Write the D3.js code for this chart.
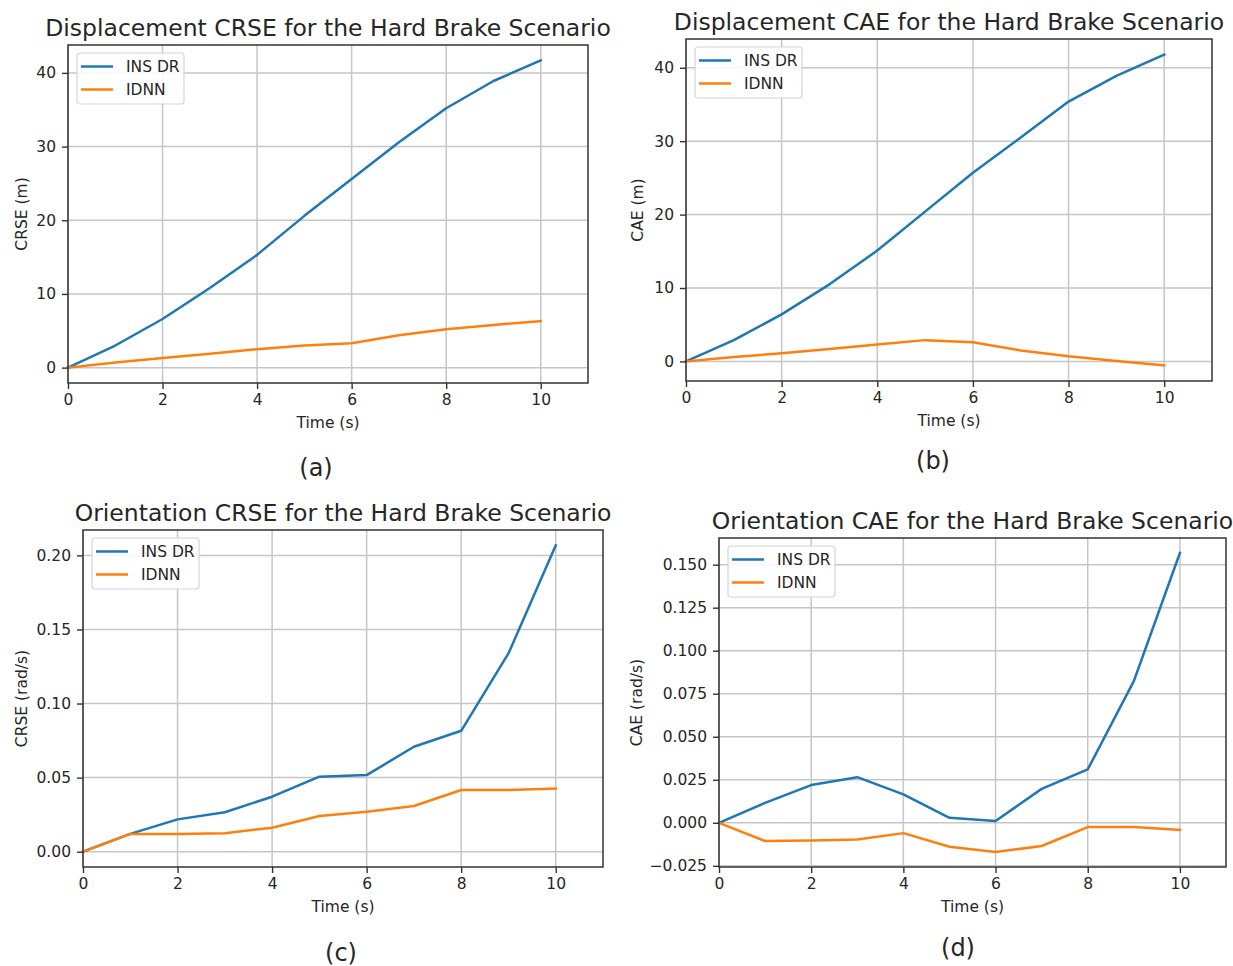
<!DOCTYPE html>
<html>
<head>
<meta charset="utf-8">
<script src="https://cdn.jsdelivr.net/npm/d3@7"></script>
<style>
  html, body { margin: 0; padding: 0; background: #ffffff; }
  svg { display: block; }
  text { font-family: "DejaVu Sans", sans-serif; fill: #262626; }
</style>
</head>
<body>
<svg id="chart" width="1233" height="966"></svg>
<script>
// Time axis shared by all four panels (seconds)
const timeSteps = [0, 1, 2, 3, 4, 5, 6, 7, 8, 9, 10];
const seriesNames = ["INS DR", "IDNN"];
const xTickValues = [0, 2, 4, 6, 8, 10];

// (a) Displacement CRSE (m)
const dispCrseInsDr = [0, 3.0, 6.6, 10.8, 15.3, 20.6, 25.6, 30.6, 35.2, 38.9, 41.7];
const dispCrseIdnn  = [0, 0.7, 1.3, 1.9, 2.5, 3.0, 3.3, 4.4, 5.2, 5.8, 6.3];
const dispCrseTicks = [0, 10, 20, 30, 40];

// (b) Displacement CAE (m)
const dispCaeInsDr = [0, 2.9, 6.4, 10.5, 15.1, 20.4, 25.7, 30.5, 35.4, 38.9, 41.8];
const dispCaeIdnn  = [0, 0.6, 1.1, 1.7, 2.3, 2.9, 2.6, 1.5, 0.7, 0.05, -0.55];
const dispCaeTicks = [0, 10, 20, 30, 40];

// (c) Orientation CRSE (rad/s)
const oriCrseInsDr = [0, 0.012, 0.0218, 0.0266, 0.0371, 0.0506, 0.0517, 0.0708, 0.0816, 0.1338, 0.2068];
const oriCrseIdnn  = [0, 0.012, 0.012, 0.0124, 0.0162, 0.0241, 0.027, 0.0308, 0.0416, 0.0416, 0.0427];
const oriCrseTicks = [0, 0.05, 0.10, 0.15, 0.20];

// (d) Orientation CAE (rad/s)
const oriCaeInsDr = [0, 0.0116, 0.0219, 0.0265, 0.0165, 0.0029, 0.001, 0.0197, 0.031, 0.0823, 0.1568];
const oriCaeIdnn  = [0, -0.0106, -0.0103, -0.0097, -0.006, -0.0139, -0.017, -0.0135, -0.0025, -0.0025, -0.0042];
const oriCaeTicks = [-0.025, 0, 0.025, 0.05, 0.075, 0.10, 0.125, 0.15];

const seriesColors = ["#1f77b4", "#ff7f0e"];

const panels = [
  { title: "Displacement CRSE for the Hard Brake Scenario", yLabel: "CRSE (m)",
    series: [dispCrseInsDr, dispCrseIdnn], yTicks: dispCrseTicks, fmt: d3.format("d"),
    box: { left: 68, right: 588, top: 45, bottom: 383 }, yLabelX: 22,
    tag: "(a)", tagX: 316, tagY: 468 },
  { title: "Displacement CAE for the Hard Brake Scenario", yLabel: "CAE (m)",
    series: [dispCaeInsDr, dispCaeIdnn], yTicks: dispCaeTicks, fmt: d3.format("d"),
    box: { left: 686, right: 1212, top: 39, bottom: 381 }, yLabelX: 638,
    tag: "(b)", tagX: 933, tagY: 461 },
  { title: "Orientation CRSE for the Hard Brake Scenario", yLabel: "CRSE (rad/s)",
    series: [oriCrseInsDr, oriCrseIdnn], yTicks: oriCrseTicks, fmt: d3.format(".2f"),
    box: { left: 83, right: 603, top: 530, bottom: 867 }, yLabelX: 22,
    tag: "(c)", tagX: 341, tagY: 953 },
  { title: "Orientation CAE for the Hard Brake Scenario", yLabel: "CAE (rad/s)",
    series: [oriCaeInsDr, oriCaeIdnn], yTicks: oriCaeTicks, fmt: d3.format(".3f"),
    box: { left: 719, right: 1226, top: 538, bottom: 867 }, yLabelX: 637,
    tag: "(d)", tagX: 958, tagY: 948 }
];

const svg = d3.select("#chart");

panels.forEach(p => {
  const b = p.box;
  const all = p.series.flat();
  const lo = d3.min(all), hi = d3.max(all);
  const pad = 0.05 * (hi - lo);

  const x = d3.scaleLinear().domain([0, 11]).range([b.left, b.right]);
  const y = d3.scaleLinear().domain([lo - pad, hi + pad]).range([b.bottom, b.top]);

  const g = svg.append("g");

  // background
  g.append("rect")
    .attr("x", b.left).attr("y", b.top)
    .attr("width", b.right - b.left).attr("height", b.bottom - b.top)
    .attr("fill", "#ffffff");

  // grid
  g.append("g").selectAll("line").data(xTickValues).join("line")
    .attr("x1", d => x(d)).attr("x2", d => x(d))
    .attr("y1", b.top).attr("y2", b.bottom)
    .attr("stroke", "#c6c6c6").attr("stroke-width", 1.5);
  g.append("g").selectAll("line").data(p.yTicks).join("line")
    .attr("x1", b.left).attr("x2", b.right)
    .attr("y1", d => y(d)).attr("y2", d => y(d))
    .attr("stroke", "#c6c6c6").attr("stroke-width", 1.5);

  // series lines
  const line = d3.line().x((d, i) => x(timeSteps[i])).y(d => y(d));
  p.series.forEach((s, k) => {
    g.append("path").datum(s)
      .attr("d", line)
      .attr("fill", "none")
      .attr("stroke", seriesColors[k])
      .attr("stroke-width", 2.5)
      .attr("stroke-linejoin", "round")
      .attr("stroke-linecap", "square");
  });

  // axes
  const xAxis = d3.axisBottom(x).tickValues(xTickValues).tickFormat(d3.format("d"))
    .tickSize(6).tickPadding(5).tickSizeOuter(0);
  const yAxis = d3.axisLeft(y).tickValues(p.yTicks)
    .tickFormat(d => p.fmt(d).replace("-", "\u2212"))
    .tickSize(6).tickPadding(6).tickSizeOuter(0);

  const gx = g.append("g").attr("transform", `translate(0,${b.bottom})`).call(xAxis);
  const gy = g.append("g").attr("transform", `translate(${b.left},0)`).call(yAxis);
  [gx, gy].forEach(a => {
    a.select(".domain").remove();
    a.selectAll("line").attr("stroke", "#333").attr("stroke-width", 1.4);
    a.selectAll("text").attr("font-size", 15.5).attr("fill", "#262626")
      .attr("font-family", "DejaVu Sans, sans-serif");
  });

  // frame
  g.append("rect")
    .attr("x", b.left).attr("y", b.top)
    .attr("width", b.right - b.left).attr("height", b.bottom - b.top)
    .attr("fill", "none").attr("stroke", "#333").attr("stroke-width", 1.5);

  // title
  g.append("text")
    .attr("x", (b.left + b.right) / 2).attr("y", b.top - 9)
    .attr("text-anchor", "middle").attr("font-size", 23.5)
    .text(p.title);

  // axis labels
  g.append("text")
    .attr("x", (b.left + b.right) / 2).attr("y", b.bottom + 40)
    .attr("text-anchor", "middle").attr("dominant-baseline", "central")
    .attr("font-size", 15.5).text("Time (s)");
  g.append("text")
    .attr("transform", `translate(${p.yLabelX},${(b.top + b.bottom) / 2}) rotate(-90)`)
    .attr("text-anchor", "middle").attr("dominant-baseline", "central")
    .attr("font-size", 15.5).text(p.yLabel);

  // legend
  const lg = g.append("g").attr("transform", `translate(${b.left + 9},${b.top + 8})`);
  lg.append("rect")
    .attr("width", 107).attr("height", 51).attr("rx", 3)
    .attr("fill", "#ffffff").attr("fill-opacity", 0.85)
    .attr("stroke", "#d4d4d4").attr("stroke-width", 1.2);
  seriesNames.forEach((name, k) => {
    const ly = 13.5 + k * 23;
    lg.append("line")
      .attr("x1", 4).attr("x2", 36).attr("y1", ly).attr("y2", ly)
      .attr("stroke", seriesColors[k]).attr("stroke-width", 2.5);
    lg.append("text")
      .attr("x", 49).attr("y", ly).attr("dominant-baseline", "central")
      .attr("font-size", 15.5).text(name);
  });

  // sub-figure tag
  svg.append("text")
    .attr("x", p.tagX).attr("y", p.tagY)
    .attr("text-anchor", "middle").attr("dominant-baseline", "central")
    .attr("font-family", "Lato, 'Open Sans', sans-serif")
    .attr("font-size", 24).attr("fill", "#111")
    .text(p.tag);
});
</script>
</body>
</html>
